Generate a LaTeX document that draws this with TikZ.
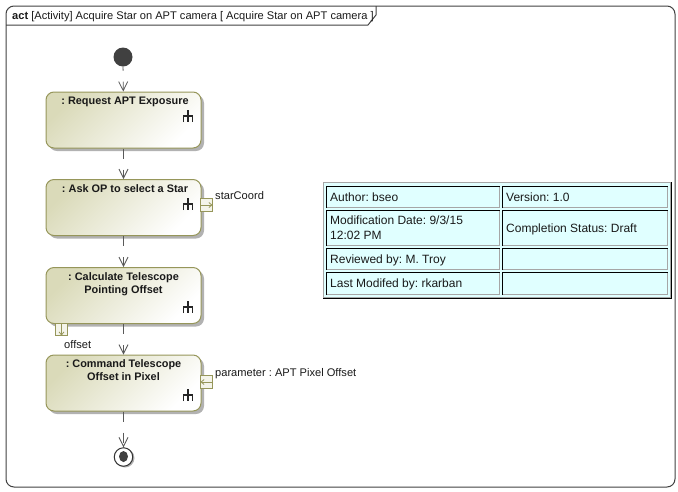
\documentclass[tikz,border=0pt]{standalone}
\usepackage{fontspec}
\setmainfont{Liberation Sans}
\frenchspacing
\usetikzlibrary{arrows.meta,shapes.geometric}
\definecolor{olive}{RGB}{150,150,90}
\definecolor{oliveshade}{RGB}{218,218,185}
\definecolor{cellblue}{RGB}{224,255,255}
\tikzset{
	action/.style={draw=olive, line width=1pt, rounded corners=8pt, minimum width=155pt, minimum height=56pt, left color=oliveshade, right color=white, shading angle=45, inner sep=0pt},
	actiontext/.style={font=\bfseries\fontsize{10.9}{13}\selectfont, align=center, text=black!90},
	pinbox/.style={draw=olive, line width=1pt, fill=white!70!oliveshade, minimum width=12.5pt, minimum height=12.5pt, inner sep=0pt},
	pinarrow/.style={draw=olive, line width=0.8pt, -{Straight Barb[length=3pt,width=5pt]}},
	flow/.style={draw=black!65, line width=0.8pt, -{Straight Barb[length=9pt,width=9pt]}},
	label/.style={font=\fontsize{11.1}{13}\selectfont, text=black!90, inner sep=0pt},
	celltext/.style={font=\fontsize{12}{13}\selectfont, text=black!90, inner sep=0pt, anchor=base west},
	cell/.style={draw=black!35, line width=1pt, fill=cellblue, anchor=north west, inner sep=0pt}
}
\newcommand{\forkicon}[2]{
	\draw[black!85, line width=1.2pt] (#1, #2-6) -- (#1, #2+6);
	\draw[black!85, line width=1.2pt] (#1-4.5, #2+6) -- (#1-4.5, #2) -- (#1+4.5, #2) -- (#1+4.5, #2+6);
}
\begin{document}
\frenchspacing
\begin{tikzpicture}[x=1pt, y=-1pt]
	\useasboundingbox (0, 0) rectangle (678, 491);
	%%%%% FRAME %%%%%
	\draw[black!75, line width=1pt, rounded corners=8pt] (6, 6) rectangle (675, 487);
	\draw[black!75, line width=1pt] (6, 25) -- (368, 25) -- (376, 15) -- (376, 6);
	\node[label, anchor=base west] (title) at (12, 19) {\textbf{act} [Activity] Acquire Star on APT camera [ Acquire Star on APT camera ]};

	%%%%% ACTIONS %%%%%
	\foreach \y in {120, 207.5, 295.5, 383} {
		\fill[black!30, rounded corners=8pt] (49, \y-25) rectangle (204, \y+31);
	}
	\node[action] (request) at (123.5, 120) {};
	\node[action] (ask) at (123.5, 207.5) {};
	\node[action] (calc) at (123.5, 295.5) {};
	\node[action] (cmd) at (123.5, 383) {};
	\node[actiontext, anchor=north] (requesttext) at (125, 93.5) {: Request APT Exposure};
	\node[actiontext, anchor=north] (asktext) at (125, 181.5) {: Ask OP to select a Star};
	\node[actiontext, anchor=north] (calctext) at (123.5, 269) {: Calculate Telescope\\Pointing Offset};
	\node[actiontext, anchor=north] (cmdtext) at (123.5, 356) {: Command Telescope\\Offset in Pixel};

	\forkicon{188}{116}
	\forkicon{188}{204}
	\forkicon{188}{307}
	\forkicon{188}{395}

	%%%%% START AND END %%%%%
	\node[circle, fill=black!75, minimum size=19pt, inner sep=0pt] (start) at (123, 57) {};
	\fill[black!30] (125, 458) circle (9.5);
	\node[circle, draw=black!80, line width=1pt, fill=white, minimum size=18.5pt, inner sep=0pt] (finish) at (123.5, 457) {};
	\node[ellipse, fill=black!75, minimum width=9pt, minimum height=11pt, inner sep=0pt] (finishdot) at (123.5, 456.5) {};

	%%%%% FLOWS %%%%%
	\draw[flow, dash pattern=on 4pt off 11pt on 9pt] (start) -- (request);
	\draw[flow, dash pattern=on 10pt off 11pt on 10pt] (request) -- (ask);
	\draw[flow, dash pattern=on 10pt off 11pt on 10pt] (ask) -- (calc);
	\draw[flow, dash pattern=on 10pt off 11pt on 10pt] (calc) -- (cmd);
	\draw[flow, dash pattern=on 10pt off 11pt on 10pt] (cmd) -- (finish);

	%%%%% PINS %%%%%
	\node[pinbox] (askpin) at (206.5, 205) {};
	\coordinate (askpinin) at (200.5, 205);
	\coordinate (askpinout) at (212.5, 205);
	\draw[pinarrow] (askpinin) -- (askpinout);
	\node[label, anchor=base west] (starcoord) at (215, 199) {starCoord};

	\node[pinbox] (calcpin) at (61.5, 329.5) {};
	\coordinate (calcpinin) at (61.5, 323.5);
	\coordinate (calcpinout) at (61.5, 335.5);
	\draw[pinarrow] (calcpinin) -- (calcpinout);
	\node[label, anchor=base west] (offset) at (64, 348) {offset};

	\node[pinbox] (cmdpin) at (206.5, 382) {};
	\coordinate (cmdpinin) at (212.5, 382);
	\coordinate (cmdpinout) at (200.5, 382);
	\draw[pinarrow] (cmdpinin) -- (cmdpinout);
	\node[label, anchor=base west] (parameter) at (215, 376) {parameter : APT Pixel Offset};

	%%%%% TABLE %%%%%
	\node[draw=black!35, line width=1pt, fill=cellblue, minimum width=347pt, minimum height=115pt, anchor=north west, inner sep=0pt] (table) at (323, 182) {};
	\draw[black, line width=1pt] (table.south west) -- (table.south east) -- (table.north east);
	\node[cell, minimum width=173pt, minimum height=21pt] (author) at (326, 186) {};
	\node[cell, minimum width=165pt, minimum height=21pt] (version) at (502, 186) {};
	\node[cell, minimum width=173pt, minimum height=35pt] (moddate) at (326, 210) {};
	\node[cell, minimum width=165pt, minimum height=35pt] (status) at (502, 210) {};
	\node[cell, minimum width=173pt, minimum height=21pt] (review) at (326, 248) {};
	\node[cell, minimum width=165pt, minimum height=21pt] (reviewblank) at (502, 248) {};
	\node[cell, minimum width=173pt, minimum height=22pt] (modified) at (326, 272) {};
	\node[cell, minimum width=165pt, minimum height=22pt] (modifiedblank) at (502, 272) {};
	\foreach \c in {author, version, moddate, status, review, reviewblank, modified, modifiedblank} {
		\draw[black, line width=1pt] (\c.south west) -- (\c.north west) -- (\c.north east);
	}
	\node[celltext] (authortext) at (330, 201) {Author: bseo};
	\node[celltext] (versiontext) at (506, 201) {Version: 1.0};
	\node[celltext] (moddatetext) at (330, 224) {Modification Date: 9/3/15};
	\node[celltext] (moddatetext2) at (330, 239) {12:02 PM};
	\node[celltext] (statustext) at (506, 232) {Completion Status: Draft};
	\node[celltext] (reviewtext) at (330, 263) {Reviewed by: M. Troy};
	\node[celltext] (modifiedtext) at (330, 287) {Last Modifed by: rkarban};
\end{tikzpicture}
\end{document}
